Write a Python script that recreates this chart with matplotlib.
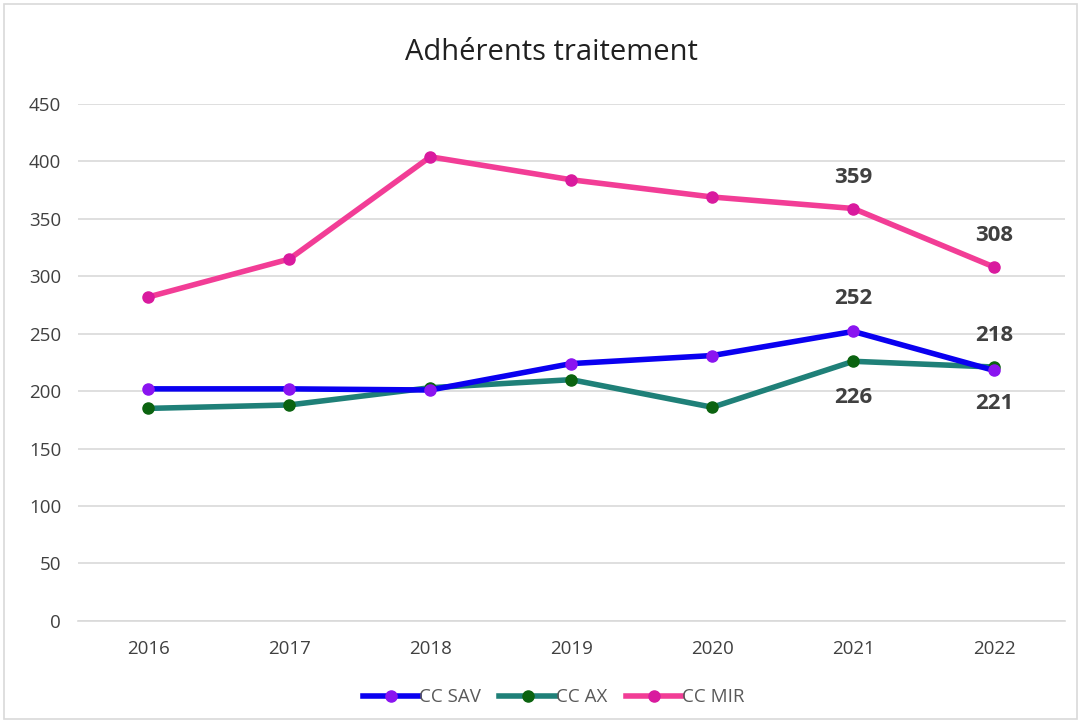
import numpy as np
import matplotlib.pyplot as plt
from matplotlib.patches import Rectangle

years = ['2016', '2017', '2018', '2019', '2020', '2021', '2022']
cc_sav = [202, 202, 201, 224, 231, 252, 218]
cc_ax = [185, 188, 203, 210, 186, 226, 221]
cc_mir = [282, 315, 404, 384, 369, 359, 308]

plt.rcParams['font.family'] = ['Open Sans', 'DejaVu Sans']

fig = plt.figure(figsize=(10.81, 7.22), dpi=100)
ax = fig.add_axes([0.072, 0.140, 0.913, 0.716])

x = np.arange(len(years))

# lignes des séries
ax.plot(x, cc_sav, color='#0A00F0', lw=4, marker='o', ms=8,
        mfc='#8A14F0', mec='#8A14F0', label='CC SAV', zorder=4)
ax.plot(x, cc_ax, color='#1F8078', lw=4, marker='o', ms=8,
        mfc='#0B6310', mec='#0B6310', label='CC AX', zorder=3)
ax.plot(x, cc_mir, color='#F23D96', lw=4, marker='o', ms=8,
        mfc='#D91A9E', mec='#D91A9E', label='CC MIR', zorder=3)

# étiquettes de données (2021 et 2022)
lab_kw = dict(ha='center', va='center', fontsize=16, fontweight='bold', color='#404040')
ax.annotate(str(cc_mir[5]), (x[5], cc_mir[5]), xytext=(0, 22), textcoords='offset points', **lab_kw)
ax.annotate(str(cc_mir[6]), (x[6], cc_mir[6]), xytext=(0, 23), textcoords='offset points', **lab_kw)
ax.annotate(str(cc_sav[5]), (x[5], cc_sav[5]), xytext=(0, 24), textcoords='offset points', **lab_kw)
ax.annotate(str(cc_sav[6]), (x[6], cc_sav[6]), xytext=(0, 25), textcoords='offset points', **lab_kw)
ax.annotate(str(cc_ax[5]), (x[5], cc_ax[5]), xytext=(0, -26), textcoords='offset points', **lab_kw)
ax.annotate(str(cc_ax[6]), (x[6], cc_ax[6]), xytext=(0, -26), textcoords='offset points', **lab_kw)

ax.set_xlim(-0.5, len(years) - 0.5)
ax.set_ylim(0, 450)
ax.set_yticks(np.arange(0, 451, 50))
ax.set_xticks(x)
ax.set_xticklabels(years)
ax.grid(axis='y', color='#D9D9D9', lw=1.2)
ax.set_axisbelow(True)
for s in ['top', 'right', 'left']:
    ax.spines[s].set_visible(False)
ax.spines['bottom'].set_color('#D9D9D9')
ax.spines['bottom'].set_linewidth(1.2)
ax.tick_params(axis='both', length=0, labelsize=13.5, labelcolor='#404040')
ax.tick_params(axis='x', pad=14)
ax.tick_params(axis='y', pad=12)

fig.text(0.51, 0.927, 'Adhérents traitement', ha='center', va='center', fontsize=21, color='#202020')

ax.legend(loc='upper center', bbox_to_anchor=(0.482, -0.098), ncol=3, frameon=False,
          fontsize=13.5, handlelength=3, columnspacing=1.0, handletextpad=0.0,
          labelcolor='#595959')

# cadre du graphique
fig.patches.append(Rectangle((0.004, 0.004), 0.992, 0.99, transform=fig.transFigure,
                             fill=False, edgecolor='#D9D9D9', lw=1.2))

fig.savefig('out.png', dpi=100)
